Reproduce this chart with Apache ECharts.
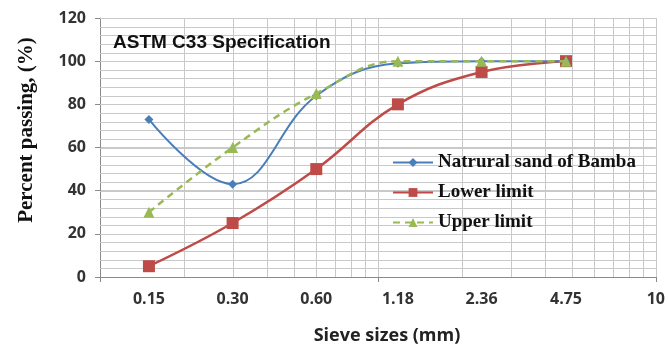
<!DOCTYPE html>
<html>
<head>
<meta charset="utf-8">
<script src="https://cdn.jsdelivr.net/npm/echarts@6/dist/echarts.min.js"></script>
<style>html,body{margin:0;padding:0;background:#fff}#c{width:668px;height:347px}</style>
</head>
<body>
<div id="c"></div>
<script>
var sieveSizes = [0.15, 0.30, 0.60, 1.18, 2.36, 4.75];
var naturalSand = [73, 43, 84, 99, 100, 100];
var lowerLimit = [5, 25, 50, 80, 95, 100];
var upperLimit = [30, 60, 85, 100, 100, 100];
var xTickValues = [0.15, 0.30, 0.60, 1.18, 2.36, 4.75, 10];
var xTickLabels = ['0.15', '0.30', '0.60', '1.18', '2.36', '4.75', '10'];
var xGridValues = [0.2,0.3,0.4,0.5,0.6,0.7,0.8,0.9,1,2,3,4,5,6,7,8,9,10];
var yGridValues = [4,8,12,16,20,24,28,32,36,40,44,48,52,56,60,64,68,72,76,80,84,88,92,96,100,104,108,112,116,120];
var xMajorTicks = [0.1, 1, 10];
var seriesNames = ['Natrural sand of Bamba', 'Lower limit', 'Upper limit'];

function pairs(vals) { return sieveSizes.map(function (x, i) { return [x, vals[i]]; }); }
function labelFor(v) {
  var best = 0, d = Infinity;
  xTickValues.forEach(function (t, i) { var dd = Math.abs(Math.log(t) - Math.log(v)); if (dd < d) { d = dd; best = i; } });
  return xTickLabels[best];
}

var gridColor = '#c9c9c9';
var chart = echarts.init(document.getElementById('c'), null, { renderer: 'canvas' });
chart.setOption({
  animation: false,
  backgroundColor: '#ffffff',
  title: {
    text: 'ASTM C33 Specification', left: 108, top: 28, z: 10,
    textStyle: { fontFamily: 'Liberation Sans', fontWeight: 'bold', fontSize: 19, color: '#111' }
  },
  graphic: [{
    type: 'text', x: 27, y: 130, rotation: Math.PI / 2,
    style: { text: 'Percent passing, (%)', font: 'bold 21px "Liberation Serif"', fill: '#111', align: 'center', verticalAlign: 'middle' }
  }, {
    type: 'text', x: 387, y: 336,
    style: { text: 'Sieve sizes (mm)', font: 'bold 18px "Open Sans"', fill: '#222', align: 'center', verticalAlign: 'middle' }
  }],
  legend: {
    orient: 'vertical', left: 392, top: 153, padding: 0, itemWidth: 40, itemHeight: 11, itemGap: 11, z: 10,
    data: seriesNames,
    textStyle: { fontFamily: 'Liberation Serif', fontWeight: 'bold', fontSize: 19, color: '#111' }
  },
  grid: { left: 100, right: 8, top: 18, bottom: 70 },
  xAxis: [{
    type: 'log', logBase: 10, min: 0.1, max: 10, position: 'bottom',
    axisLine: { show: true, lineStyle: { color: '#8a8a8a' } },
    axisTick: { show: true, customValues: xMajorTicks, length: 5, lineStyle: { color: '#8a8a8a' } },
    axisLabel: {
      show: true, customValues: xTickValues, margin: 14,
      formatter: function (v) { return labelFor(v); },
      fontFamily: 'Open Sans', fontWeight: 'bold', fontSize: 16, color: '#333'
    },
    splitLine: { show: false }
  }],
  yAxis: [{
    type: 'value', min: 0, max: 120, interval: 20,
    axisLine: { show: true, lineStyle: { color: '#8a8a8a' } },
    axisTick: { show: true, inside: false, length: 5, lineStyle: { color: '#8a8a8a' } },
    axisLabel: { margin: 14, fontFamily: 'Open Sans', fontWeight: 'bold', fontSize: 16, color: '#333' },
    splitLine: { show: true, lineStyle: { color: gridColor } }
  }],
  series: [{
    name: 'hgrid', type: 'custom', silent: true, z: 1,
    data: yGridValues.map(function (v) { return [1, v]; }),
    encode: { x: 0, y: 1 },
    renderItem: function (params, api) {
      var p1 = api.coord([0.1, api.value(1)]);
      var p2 = api.coord([10, api.value(1)]);
      var y = Math.round(p1[1]) + 0.5;
      return { type: 'line', shape: { x1: p1[0], y1: y, x2: p2[0], y2: y }, style: { stroke: gridColor, lineWidth: 1 } };
    }
  }, {
    name: 'vgrid', type: 'custom', silent: true, z: 1,
    data: xGridValues.map(function (v) { return [v, 60]; }),
    encode: { x: 0, y: 1 },
    renderItem: function (params, api) {
      var p1 = api.coord([api.value(0), 0]);
      var p2 = api.coord([api.value(0), 120]);
      var x = Math.round(p1[0]) + 0.5;
      return { type: 'line', shape: { x1: x, y1: p1[1], x2: x, y2: p2[1] }, style: { stroke: gridColor, lineWidth: 1 } };
    }
  }, {
    name: seriesNames[0], type: 'line', data: pairs(naturalSand), smooth: 0.4, z: 4,
    symbol: 'diamond', symbolSize: 9, color: '#4a7ebb',
    lineStyle: { width: 2, color: '#4a7ebb' }, itemStyle: { color: '#4a7ebb' }
  }, {
    name: seriesNames[1], type: 'line', data: pairs(lowerLimit), smooth: 0.4, z: 3,
    symbol: 'rect', symbolSize: 12, color: '#be4b48',
    lineStyle: { width: 2.5, color: '#be4b48' }, itemStyle: { color: '#be4b48' }
  }, {
    name: seriesNames[2], type: 'line', data: pairs(upperLimit), smooth: 0.4, z: 5,
    symbol: 'triangle', symbolSize: 11, color: '#98b954',
    lineStyle: { width: 2.5, type: [7, 5], color: '#98b954' }, itemStyle: { color: '#98b954' }
  }]
});
</script>
</body>
</html>
